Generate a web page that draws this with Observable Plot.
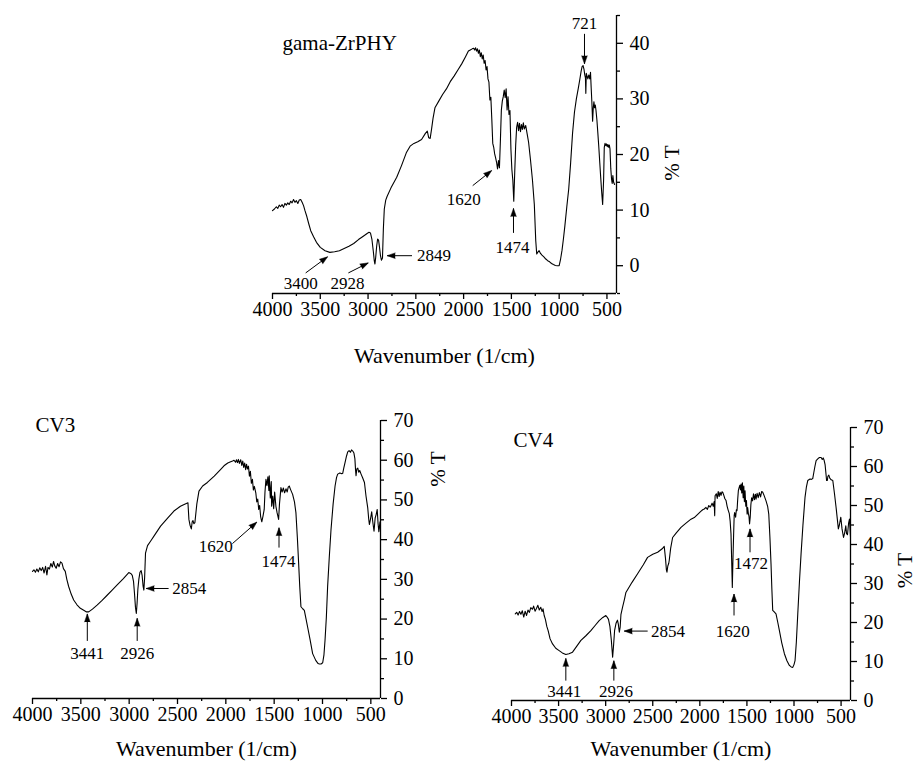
<!DOCTYPE html>
<html>
<head>
<meta charset="utf-8">
<script src="https://cdn.jsdelivr.net/npm/d3@7"></script>
<script src="https://cdn.jsdelivr.net/npm/@observablehq/plot@0.6"></script>
<style>
  html, body { margin: 0; padding: 0; background: #fff; }
  #wrap { position: relative; width: 916px; height: 763px; background: #fff; overflow: hidden; }
  #wrap svg { position: absolute; }
</style>
</head>
<body>
<div id="wrap"></div>
<script>
// ---------- DATA ----------
const xMajorTicks = [4000, 3500, 3000, 2500, 2000, 1500, 1000, 500];
const xMinorTicks = [3750, 3250, 2750, 2250, 1750, 1250, 750];
const xTitle = "Wavenumber (1/cm)";
const yTitle = "% T";

// gama-ZrPHY spectrum [wavenumber, %T]
const zrphy = [
[4000,9.9],[3980,10.2],[3960,10.6],[3945,10.3],[3930,10.9],[3915,10.6],[3900,11.0],[3885,10.5],[3870,11.2],[3855,10.9],
[3840,11.3],[3825,11.0],[3810,11.6],[3795,11.3],[3780,11.9],[3765,11.4],[3750,11.7],[3735,11.2],[3720,11.8],[3705,11.9],
[3690,11.4],[3675,10.8],[3660,9.9],[3640,8.8],[3620,7.5],[3600,6.3],[3570,5.2],[3540,4.2],[3500,3.3],[3450,2.7],
[3400,2.4],[3350,2.5],[3300,2.7],[3250,3.1],[3200,3.5],[3150,4.0],[3100,4.7],[3050,5.3],[3010,5.8],[2990,6.0],
[2975,5.9],[2960,4.8],[2945,2.6],[2935,0.9],[2928,0.3],[2920,1.5],[2910,3.5],[2900,4.8],[2890,4.6],[2880,3.3],
[2870,1.8],[2860,1.0],[2849,1.4],[2840,6.5],[2830,10.2],[2815,11.8],[2800,12.5],[2760,14.0],[2700,15.9],[2650,18.0],
[2600,20.3],[2560,21.5],[2520,22.0],[2480,22.3],[2440,22.7],[2400,23.8],[2380,24.2],[2365,23.0],[2350,22.9],[2335,24.6],
[2320,26.5],[2300,28.4],[2260,29.6],[2220,30.8],[2180,31.8],[2140,33.1],[2100,34.1],[2060,35.2],[2020,36.3],[1980,37.6],
[1950,38.6],[1930,38.8],[1910,39.0],[1895,39.1],[1885,38.8],[1875,39.2],[1865,38.6],[1855,39.0],[1845,38.2],[1835,38.8],
[1825,37.6],[1815,38.3],[1805,37.2],[1795,37.9],[1785,36.4],[1775,36.9],[1765,35.2],[1755,35.8],[1745,33.6],[1735,33.0],
[1725,29.8],[1715,30.3],[1705,26.4],[1695,22.0],[1685,21.3],[1675,20.1],[1665,19.4],[1655,18.6],[1645,17.4],[1635,18.9],
[1625,17.6],[1615,22.5],[1605,28.0],[1595,29.6],[1585,30.4],[1575,31.6],[1565,30.2],[1555,31.8],[1545,28.0],[1535,30.4],
[1525,27.2],[1515,27.9],[1505,21.0],[1495,17.3],[1485,15.4],[1475,11.6],[1465,16.8],[1455,21.7],[1445,24.9],[1435,25.8],
[1425,24.3],[1415,25.6],[1405,24.1],[1395,25.4],[1385,24.5],[1375,25.7],[1365,24.6],[1350,25.2],[1335,23.7],[1320,22.2],
[1300,19.0],[1280,15.5],[1260,11.0],[1245,4.5],[1235,2.1],[1225,2.4],[1210,2.7],[1195,2.2],[1180,1.9],[1160,1.6],
[1140,1.2],[1120,0.9],[1100,0.7],[1080,0.4],[1060,0.2],[1040,0.05],[1020,0.0],[1000,0.0],[985,1.2],[970,2.8],
[955,4.9],[940,7.2],[920,10.6],[900,13.8],[880,18.5],[860,23.8],[840,27.6],[820,30.0],[800,31.9],[785,33.4],
[770,35.0],[760,35.8],[750,36.0],[740,35.3],[732,34.3],[725,33.8],[721,31.0],[716,34.6],[710,34.2],[700,33.6],
[690,34.3],[680,33.6],[672,34.8],[665,32.0],[658,29.5],[650,26.0],[643,28.4],[636,29.5],[630,28.4],[622,28.9],
[615,28.0],[605,26.2],[595,23.8],[585,21.3],[575,18.5],[565,15.8],[555,13.2],[545,11.0],[535,15.4],[528,21.3],
[520,22.0],[512,21.6],[505,21.9],[497,21.4],[490,21.8],[482,21.3],[475,21.7],[468,21.0],[460,17.5],[452,15.6],
[445,14.8],[438,16.2],[430,15.0],[420,14.6]
];

// CV3 spectrum [wavenumber, %T]
const cv3 = [
[4000,32.0],[3985,32.4],[3970,31.8],[3955,32.6],[3940,31.9],[3925,32.9],[3910,32.2],[3895,33.0],[3880,31.6],[3865,33.3],
[3851,31.1],[3840,33.0],[3825,32.6],[3810,34.0],[3795,33.1],[3782,34.5],[3770,33.4],[3755,32.8],[3740,34.0],[3725,33.2],
[3710,34.4],[3695,34.1],[3680,32.7],[3661,32.0],[3645,30.0],[3626,28.2],[3600,26.3],[3574,24.8],[3540,23.6],[3505,22.7],
[3470,22.2],[3441,21.8],[3419,21.8],[3380,22.5],[3332,23.5],[3280,24.7],[3228,26.0],[3176,27.3],[3124,28.6],[3060,30.2],
[3004,31.7],[2980,31.4],[2968,31.0],[2955,29.5],[2945,26.5],[2935,23.0],[2926,21.4],[2918,24.0],[2910,27.5],[2900,30.0],
[2888,31.8],[2876,32.2],[2866,31.0],[2856,28.3],[2848,27.3],[2840,30.5],[2831,36.6],[2810,38.5],[2779,39.6],[2730,41.4],
[2675,43.4],[2600,45.5],[2537,47.2],[2470,48.4],[2420,49.0],[2392,49.3],[2382,45.1],[2370,43.6],[2357,42.7],[2348,44.5],
[2340,44.8],[2330,44.0],[2320,44.3],[2300,49.0],[2278,52.2],[2240,53.5],[2191,54.4],[2120,56.0],[2053,57.7],[2019,58.6],
[1980,59.3],[1950,59.6],[1930,59.8],[1915,60.0],[1900,59.5],[1890,60.1],[1880,59.4],[1870,60.2],[1860,59.2],[1846,60.1],
[1835,58.7],[1825,59.8],[1815,58.2],[1805,59.3],[1795,57.6],[1786,59.0],[1776,57.8],[1766,58.5],[1756,56.0],[1746,57.2],
[1736,54.2],[1725,55.2],[1715,52.5],[1705,53.4],[1690,51.8],[1680,49.5],[1670,50.2],[1660,47.6],[1650,48.6],[1640,45.8],
[1628,44.5],[1615,46.0],[1603,47.6],[1595,52.0],[1585,55.2],[1575,53.6],[1565,55.8],[1555,52.4],[1551,56.1],[1540,50.5],
[1530,54.6],[1526,48.4],[1515,51.0],[1505,47.8],[1495,52.0],[1482,48.4],[1470,46.8],[1454,45.1],[1445,49.0],[1430,53.1],
[1418,52.0],[1405,53.0],[1392,51.8],[1378,52.8],[1365,52.0],[1355,53.2],[1344,53.5],[1330,52.6],[1309,51.4],[1290,49.5],
[1275,46.8],[1260,40.5],[1247,34.1],[1235,28.0],[1223,23.1],[1205,22.6],[1188,22.2],[1170,20.0],[1154,18.0],[1130,15.0],
[1102,11.3],[1070,9.6],[1045,8.8],[1033,8.7],[1015,8.7],[998,9.0],[985,11.0],[974,14.6],[960,20.5],[947,28.2],
[930,35.5],[912,42.5],[890,49.0],[870,53.5],[855,55.6],[843,56.5],[820,56.8],[800,56.6],[791,56.7],[780,58.0],
[767,59.4],[752,61.0],[739,62.1],[725,62.4],[710,62.0],[700,62.6],[687,62.3],[675,61.8],[665,60.4],[658,57.5],
[653,56.1],[645,57.8],[635,58.0],[625,57.0],[615,57.4],[601,56.5],[585,55.6],[566,54.4],[550,51.0],[532,48.0],
[522,45.2],[515,43.8],[505,45.0],[491,47.0],[480,44.5],[467,42.1],[455,45.5],[445,46.3],[434,47.6],[425,44.0],
[417,42.0],[405,44.5],[400,42.5]
];

// CV4 spectrum [wavenumber, %T]
const cv4 = [
[3960,22.2],[3945,22.6],[3930,21.9],[3915,22.8],[3900,22.1],[3885,23.0],[3870,21.4],[3855,22.9],[3840,21.8],[3825,23.2],
[3810,22.6],[3795,23.8],[3777,23.4],[3765,24.2],[3750,22.9],[3735,23.6],[3720,24.4],[3705,23.2],[3689,23.9],[3675,22.8],
[3665,23.5],[3653,21.8],[3640,20.8],[3625,19.0],[3611,17.9],[3590,15.8],[3564,14.5],[3530,13.4],[3494,12.8],[3460,12.2],
[3423,11.8],[3390,12.0],[3352,12.4],[3310,13.8],[3263,15.4],[3210,16.6],[3157,17.9],[3110,19.3],[3069,20.5],[3030,21.3],
[2998,21.8],[2985,21.4],[2970,20.8],[2955,19.0],[2940,15.5],[2926,11.1],[2915,14.5],[2905,18.0],[2890,19.8],[2875,20.6],
[2865,19.5],[2855,17.5],[2846,18.8],[2838,22.0],[2821,23.9],[2800,26.0],[2785,27.7],[2720,30.3],[2661,32.5],[2600,34.8],
[2555,36.7],[2500,37.5],[2448,38.0],[2400,38.9],[2378,39.5],[2365,36.5],[2355,33.5],[2349,32.9],[2340,34.5],[2330,35.2],
[2325,35.9],[2310,39.0],[2289,41.8],[2250,43.0],[2200,44.4],[2150,45.4],[2094,46.5],[2059,46.9],[2020,47.8],[1990,48.5],
[1970,48.9],[1953,49.1],[1935,49.5],[1920,49.0],[1905,50.0],[1890,49.6],[1882,49.9],[1870,50.6],[1858,49.8],[1848,51.0],
[1842,47.4],[1838,52.5],[1825,53.0],[1815,51.8],[1805,53.6],[1795,52.3],[1785,53.4],[1775,52.6],[1765,53.5],[1757,53.4],
[1745,52.6],[1735,51.8],[1722,51.3],[1710,49.8],[1700,48.9],[1687,47.9],[1678,46.0],[1669,42.7],[1662,36.0],[1655,29.0],
[1648,36.5],[1640,43.6],[1635,47.5],[1630,48.2],[1620,47.0],[1612,48.9],[1605,48.7],[1598,51.5],[1591,53.8],[1583,54.6],
[1575,55.2],[1568,54.0],[1562,55.5],[1555,53.2],[1548,55.8],[1540,52.0],[1533,55.0],[1527,51.0],[1520,53.8],[1512,49.8],
[1505,51.3],[1498,47.8],[1492,49.5],[1485,48.0],[1478,47.2],[1472,45.3],[1465,47.0],[1458,50.2],[1450,52.0],[1440,51.2],
[1430,53.0],[1420,51.5],[1410,52.9],[1403,51.6],[1392,53.1],[1380,52.0],[1368,53.3],[1355,52.2],[1343,53.6],[1332,53.4],
[1318,52.6],[1297,51.2],[1280,49.8],[1268,47.8],[1256,42.0],[1244,35.0],[1235,28.5],[1226,23.1],[1210,22.7],[1191,22.2],
[1172,20.0],[1155,17.9],[1130,14.8],[1102,12.0],[1075,10.2],[1049,9.0],[1030,8.6],[1013,8.5],[1000,9.2],[989,10.2],
[975,15.0],[960,22.2],[942,30.5],[925,37.6],[905,45.0],[883,52.1],[868,54.8],[854,56.4],[830,56.8],[815,56.7],
[801,56.9],[790,58.4],[778,60.0],[765,61.5],[745,62.0],[730,62.3],[712,62.3],[700,61.8],[690,62.2],[680,61.6],
[670,60.5],[660,58.0],[654,56.4],[646,56.4],[640,57.5],[630,57.8],[620,57.0],[605,56.6],[588,56.4],[570,53.0],
[553,49.5],[540,46.5],[529,44.0],[518,45.0],[503,47.0],[490,44.0],[474,41.8],[462,43.0],[450,44.8],[442,42.8],
[432,42.5],[420,45.5],[411,46.5],[405,44.0],[400,42.0]
];

// Peak annotations: label, label position (wavenumber, %T), arrow from -> to
const zrNotes = [
  {label: "3400", lx: 3705, ly: -3.2, x1: 3653, y1: -1.3, x2: 3424, y2: 1.6, anchor: "middle"},
  {label: "2928", lx: 3216, ly: -3.2, x1: 3206, y1: -1.3, x2: 2998, y2: 0.5, anchor: "middle"},
  {label: "2849", lx: 2488, ly: 1.8, x1: 2540, y1: 1.8, x2: 2800, y2: 1.8, anchor: "start"},
  {label: "1620", lx: 1999, ly: 11.9, x1: 1905, y1: 14.4, x2: 1707, y2: 17.1, anchor: "middle"},
  {label: "1474", lx: 1488, ly: 3.2, x1: 1478, y1: 5.9, x2: 1478, y2: 10.3, anchor: "middle"},
  {label: "721", lx: 735, ly: 43.5, x1: 735, y1: 41.7, x2: 735, y2: 36.3, anchor: "middle"}
];
const cv3Notes = [
  {label: "3441", lx: 3433, ly: 11.4, x1: 3433, y1: 14.5, x2: 3433, y2: 21.3, anchor: "middle"},
  {label: "2926", lx: 2917, ly: 11.4, x1: 2917, y1: 14.5, x2: 2917, y2: 20.2, anchor: "middle"},
  {label: "2854", lx: 2554, ly: 27.7, x1: 2592, y1: 27.7, x2: 2824, y2: 27.7, anchor: "start"},
  {label: "1620", lx: 2105, ly: 38.3, x1: 1932, y1: 39.0, x2: 1680, y2: 44.4, anchor: "middle"},
  {label: "1474", lx: 1454, ly: 34.5, x1: 1450, y1: 38.0, x2: 1450, y2: 43.0, anchor: "middle"}
];
const cv4Notes = [
  {label: "3441", lx: 3441, ly: 2.3, x1: 3423, y1: 5.1, x2: 3423, y2: 10.8, anchor: "middle"},
  {label: "2926", lx: 2891, ly: 2.3, x1: 2913, y1: 5.1, x2: 2913, y2: 10.2, anchor: "middle"},
  {label: "2854", lx: 2519, ly: 17.8, x1: 2554, y1: 17.8, x2: 2803, y2: 17.8, anchor: "start"},
  {label: "1620", lx: 1651, ly: 17.8, x1: 1637, y1: 21.8, x2: 1637, y2: 27.3, anchor: "middle"},
  {label: "1472", lx: 1456, ly: 35.0, x1: 1467, y1: 38.0, x2: 1467, y2: 44.0, anchor: "middle"}
];

// ---------- DRAWING ----------
const FONT = "'Liberation Serif', 'Times New Roman', serif";

function panel(cfg) {
  const data = cfg.series.map(([w, t]) => ({w, t}));
  const [y0, y1] = cfg.yDomain;
  // pixel-per-unit factors (for orienting the filled arrow heads only)
  const kx = (cfg.width - cfg.mL - cfg.mR) / 3600;
  const ky = (cfg.height - cfg.mT - cfg.mB) / (y1 - y0);
  const heads = cfg.notes.map(d => {
    const sx = -(d.x2 - d.x1) * kx, sy = -(d.y2 - d.y1) * ky;
    return {...d, angle: Math.atan2(sx, -sy) * 180 / Math.PI};
  });
  const plot = Plot.plot({
    width: cfg.width, height: cfg.height,
    marginLeft: cfg.mL, marginRight: cfg.mR, marginTop: cfg.mT, marginBottom: cfg.mB,
    style: {fontFamily: FONT, fontSize: "20px", color: "#000", background: "transparent", overflow: "visible"},
    x: {domain: [4000, 400]},
    y: {domain: cfg.yDomain},
    marks: [
      Plot.ruleY([y0], {stroke: "#000", strokeWidth: 1.3}),
      Plot.ruleX([400], {stroke: "#000", strokeWidth: 1.3}),
      Plot.axisX({ticks: xMajorTicks, tickSize: 6, tickPadding: 2, tickFormat: "d", label: null, strokeWidth: 1.3, fontSize: 20}),
      Plot.axisX({ticks: xMinorTicks, tickSize: 3, tickFormat: () => "", label: null, strokeWidth: 1.3}),
      Plot.axisY({anchor: "right", ticks: cfg.yMajor, tickSize: 6, tickPadding: 7, tickFormat: "d", label: null, strokeWidth: 1.3, fontSize: 20}),
      Plot.axisY({anchor: "right", ticks: cfg.yMinor, tickSize: 3, tickFormat: () => "", label: null, strokeWidth: 1.3}),
      Plot.line(data, {x: "w", y: "t", stroke: "#000", strokeWidth: 1.1}),
      Plot.link(cfg.notes, {x1: "x1", y1: "y1", x2: "x2", y2: "y2", stroke: "#000", strokeWidth: 1}),
      Plot.vector(heads, {x: "x2", y: "y2", rotate: "angle", length: 8, shape: "spike", r: 2.8, anchor: "end", fill: "#000", stroke: "#000", strokeWidth: 0.5}),
      Plot.text(cfg.notes.filter(d => d.anchor === "middle"), {x: "lx", y: "ly", text: "label", fontSize: 17, textAnchor: "middle"}),
      Plot.text(cfg.notes.filter(d => d.anchor === "start"), {x: "lx", y: "ly", text: "label", fontSize: 17, textAnchor: "start"}),
      Plot.text([cfg.title], {frameAnchor: "top-left", text: d => d, dx: cfg.titleDx, dy: cfg.titleDy, textAnchor: "start", lineAnchor: "middle", fontSize: 21}),
      Plot.text([yTitle], {frameAnchor: "right", text: d => d, rotate: -90, dx: cfg.yTitleDx, dy: cfg.yTitleDy, lineAnchor: "middle", fontSize: 21}),
      Plot.text([xTitle], {frameAnchor: "bottom", text: d => d, dy: cfg.xTitleDy, lineAnchor: "middle", fontSize: 22})
    ]
  });
  plot.style.left = cfg.left + "px";
  plot.style.top = cfg.top + "px";
  document.getElementById("wrap").appendChild(plot);
}

panel({
  series: zrphy, notes: zrNotes, title: "gama-ZrPHY",
  left: 200, top: 0, width: 520, height: 370, mL: 72, mR: 104, mT: 15, mB: 77,
  yDomain: [-5, 45], yMajor: [0, 10, 20, 30, 40], yMinor: [-5, 5, 15, 25, 35, 45],
  titleDx: 10, titleDy: 28, yTitleDx: 56, yTitleDy: -9, xTitleDy: 62
});
panel({
  series: cv3, notes: cv3Notes, title: "CV3",
  left: 0, top: 380, width: 470, height: 383, mL: 32, mR: 90, mT: 40, mB: 65,
  yDomain: [0, 70], yMajor: [0, 10, 20, 30, 40, 50, 60, 70], yMinor: [5, 15, 25, 35, 45, 55, 65],
  titleDx: 3, titleDy: 5, yTitleDx: 58, yTitleDy: -108, xTitleDy: 50
});
panel({
  series: cv4, notes: cv4Notes, title: "CV4",
  left: 470, top: 380, width: 446, height: 383, mL: 41, mR: 66, mT: 47, mB: 63,
  yDomain: [0, 70], yMajor: [0, 10, 20, 30, 40, 50, 60, 70], yMinor: [5, 15, 25, 35, 45, 55, 65],
  titleDx: 2, titleDy: 13, yTitleDx: 55, yTitleDy: -11, xTitleDy: 48
});
</script>
</body>
</html>
